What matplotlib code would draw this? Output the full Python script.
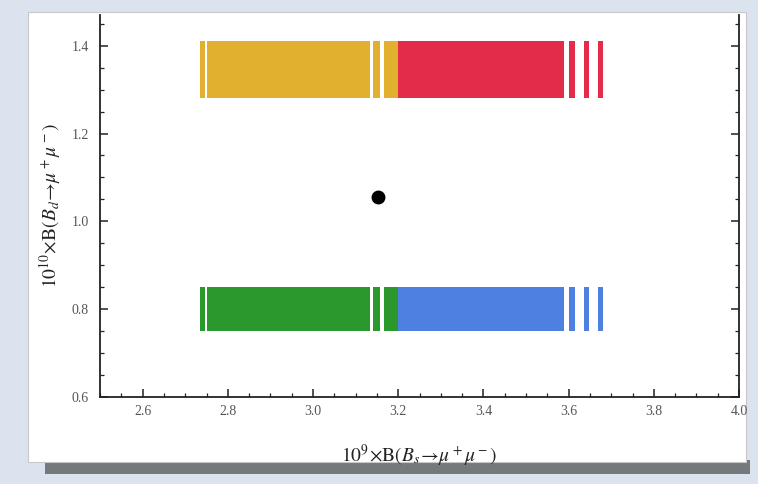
import matplotlib
matplotlib.use('Agg')
import matplotlib.pyplot as plt
from matplotlib.patches import Rectangle
from matplotlib.ticker import MultipleLocator, FormatStrFormatter

# x-segments (start, end) of the striped bands
left_segs = [(2.735, 2.746), (2.752, 3.133), (3.141, 3.158), (3.167, 3.200)]
right_segs = [(3.200, 3.588), (3.601, 3.616), (3.636, 3.648), (3.668, 3.681)]

upper_band = (1.28, 1.41)
lower_band = (0.75, 0.85)

band_colors = {'upper_left': '#e0b02e', 'upper_right': '#e22c4a',
               'lower_left': '#2a982c', 'lower_right': '#4e80e2'}

sm_point = (3.153, 1.055)

plt.rcParams['mathtext.fontset'] = 'stix'
plt.rcParams['font.family'] = ['Liberation Serif', 'DejaVu Serif']

fig = plt.figure(figsize=(7.58, 4.84), dpi=100)
fig.patch.set_facecolor('#dbe4ee')

# paper card with a shadow
fig.patches.append(Rectangle((0.06, 0.02), 0.93, 0.03, transform=fig.transFigure,
                             facecolor='#555555', edgecolor='none', alpha=0.75, zorder=-2))
fig.patches.append(Rectangle((0.037, 0.045), 0.947, 0.93, transform=fig.transFigure,
                             facecolor='white', edgecolor='#c8c8c8', lw=0.8, zorder=-1))

ax = fig.add_axes([0.132, 0.180, 0.843, 0.789])
ax.set_zorder(1)
ax.set_facecolor('white')


def to_bars(segs):
    return [(a, b - a) for a, b in segs]


ax.broken_barh(to_bars(left_segs), (upper_band[0], upper_band[1] - upper_band[0]),
               facecolors=band_colors['upper_left'])
ax.broken_barh(to_bars(right_segs), (upper_band[0], upper_band[1] - upper_band[0]),
               facecolors=band_colors['upper_right'])
ax.broken_barh(to_bars(left_segs), (lower_band[0], lower_band[1] - lower_band[0]),
               facecolors=band_colors['lower_left'])
ax.broken_barh(to_bars(right_segs), (lower_band[0], lower_band[1] - lower_band[0]),
               facecolors=band_colors['lower_right'])

ax.plot([sm_point[0]], [sm_point[1]], 'o', color='black', markersize=9)

ax.set_xlim(2.5, 4.0)
ax.set_ylim(0.6, 1.47)
ax.xaxis.set_major_locator(MultipleLocator(0.2))
ax.xaxis.set_minor_locator(MultipleLocator(0.05))
ax.yaxis.set_major_locator(MultipleLocator(0.2))
ax.yaxis.set_minor_locator(MultipleLocator(0.05))
ax.xaxis.set_major_formatter(FormatStrFormatter('%.1f'))
ax.yaxis.set_major_formatter(FormatStrFormatter('%.1f'))

ax.spines['top'].set_visible(False)
for s in ['left', 'bottom', 'right']:
    ax.spines[s].set_linewidth(1.3)
    ax.spines[s].set_color('#222222')

ax.tick_params(which='both', direction='in', left=True, bottom=True, right=True,
               top=False, labelcolor='#555555', labelsize=10, color='#222222')
ax.tick_params(which='major', length=6, width=1.1)
ax.tick_params(which='minor', length=3, width=0.9)
ax.tick_params(axis='x', pad=6)
ax.tick_params(axis='y', pad=8)

ax.set_xlabel(r'$10^9\!\times\!\mathrm{B}(B_s\!\rightarrow\!\mu^+\mu^-)$', fontsize=14,
              color='#222222', labelpad=18)
ax.set_ylabel(r'$10^{10}\!\times\!\mathrm{B}(B_d\!\rightarrow\!\mu^+\mu^-)$', fontsize=14,
              color='#222222', labelpad=6)

plt.savefig('out.png', dpi=100, facecolor=fig.get_facecolor())
